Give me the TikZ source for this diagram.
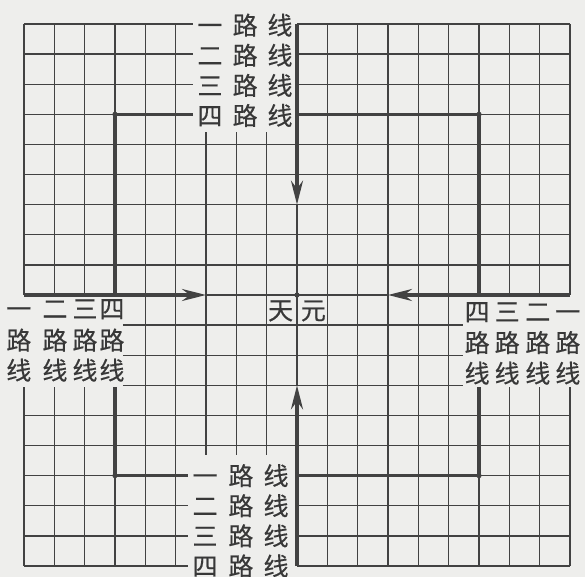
\documentclass[tikz,border=0pt]{standalone}
\usepackage{fontspec}
\newfontfamily\cjk[FakeBold=0.4]{Noto Sans CJK SC}
\usetikzlibrary{arrows.meta}
\definecolor{paper}{RGB}{238,238,236}
\definecolor{ink}{RGB}{66,66,66}
\definecolor{txt}{RGB}{56,56,56}
\tikzset{
  thinline/.style={draw=ink, line width=1.4pt},
  borderline/.style={draw=ink, line width=2.1pt},
  thickline/.style={draw=ink, line width=3.4pt, line join=miter},
  arrowline/.style={draw=ink, line width=3.4pt, -{Stealth[length=24pt,width=12pt,inset=8pt]}},
  lbl/.style={font=\cjk\fontsize{25}{25}\selectfont, text=txt, inner sep=0pt,
              text height=22pt, text depth=3pt},
  dotmark/.style={fill=ink}
}
\begin{document}
\begin{tikzpicture}[x=30.333pt, y=-30.111pt]
\fill[paper] (-0.7912,-0.7971) rectangle (18.495,18.365);
\useasboundingbox (-0.7912,-0.7971) rectangle (18.495,18.365);

% key points
\coordinate (C) at (9,9);
\coordinate (TL) at (3,3);
\coordinate (TR) at (15,3);
\coordinate (BL) at (3,15);
\coordinate (BR) at (15,15);
\coordinate (topEnd) at (5.57,3);
\coordinate (botEnd) at (5.41,15);
\coordinate (leftStart) at (3,12.07);
\coordinate (rightStart) at (15,12.07);

% thin horizontal lines
\foreach \j in {1,2} {
  \draw[thinline] (0,\j) -- (5.57,\j);
  \draw[thinline] (9,\j) -- (18,\j);
}
\draw[thinline] (0,3) -- (3,3);
\draw[thinline] (15,3) -- (18,3);
\foreach \j in {4,5,6,7,8,13,14} {
  \draw[thinline] (0,\j) -- (18,\j);
}
\draw[thinline] (6,9) -- (12,9);
\foreach \j in {10,11,12} {
  \draw[thinline] (3.26,\j) -- (14.47,\j);
}
\draw[thinline] (0,15) -- (3,15);
\draw[thinline] (15,15) -- (18,15);
\foreach \j in {16,17} {
  \draw[thinline] (0,\j) -- (5.41,\j);
  \draw[thinline] (9,\j) -- (18,\j);
}

% thin vertical lines
\foreach \i in {1,2,16,17} {
  \draw[thinline] (\i,0) -- (\i,9);
  \draw[thinline] (\i,12.07) -- (\i,18);
}
\foreach \i in {3,15} {
  \draw[thinline] (\i,0) -- (\i,3);
  \draw[thinline] (\i,15) -- (\i,18);
}
\foreach \i in {4,5,10,11,12,13,14} {
  \draw[thinline] (\i,0) -- (\i,18);
}
\foreach \i in {6,7,8} {
  \draw[thinline] (\i,3.59) -- (\i,14.31);
}
\draw[thinline] (9,6) -- (9,12);

% border
\draw[borderline] (0,0) -- (5.57,0);
\draw[borderline] (9,0) -- (18,0);
\draw[borderline] (0,18) -- (5.41,18);
\draw[borderline] (9,18) -- (18,18);
\foreach \i in {0,18} {
  \draw[borderline] (\i,0) -- (\i,9);
  \draw[borderline] (\i,12.07) -- (\i,18);
}

% thick fourth lines
\draw[thickline] (topEnd) -- (TL) -- (3,9);
\draw[thickline] (9,3) -- (TR) -- (15,9);
\draw[thickline] (leftStart) -- (BL) -- (botEnd);
\draw[thickline] (9,15) -- (BR) -- (rightStart);

% arrows toward tengen
\draw[arrowline] (0,9) -- (6,9);
\draw[arrowline] (18,9) -- (12,9);
\draw[arrowline] (9,0) -- (9,6);
\draw[arrowline] (9,18) -- (9,12);

% dots
\foreach \p in {C,TL,TR,BL,BR} {
  \fill[dotmark] (\p) circle (2.6pt);
}

% top labels
\foreach \n [count=\k from 0] in {一,二,三,四} {
  \node[lbl] (top-\k-a) at (6.13,\k+0.04) {\n};
  \node[lbl] (top-\k-b) at (7.29,\k+0.04) {路};
  \node[lbl] (top-\k-c) at (8.44,\k+0.04) {线};
}
% bottom labels
\foreach \n [count=\k from 15] in {一,二,三,四} {
  \node[lbl] (bot-\k-a) at (5.97,\k) {\n};
  \node[lbl] (bot-\k-b) at (7.15,\k) {路};
  \node[lbl] (bot-\k-c) at (8.31,\k) {线};
}
% left labels
\foreach \n/\x [count=\k] in {一/-0.17,二/1.02,三/2.01,四/2.9} {
  \node[lbl] (left-\k-a) at (\x,9.45) {\n};
  \node[lbl] (left-\k-b) at (\x,10.5) {路};
  \node[lbl] (left-\k-c) at (\x,11.5) {线};
}
% right labels
\foreach \n/\x [count=\k] in {四/14.94,三/15.93,二/16.94,一/17.93} {
  \node[lbl] (right-\k-a) at (\x,9.55) {\n};
  \node[lbl] (right-\k-b) at (\x,10.58) {路};
  \node[lbl] (right-\k-c) at (\x,11.6) {线};
}
% tengen
\node[lbl] (tian) at (8.46,9.5) {天};
\node[lbl] (yuan) at (9.54,9.5) {元};
\end{tikzpicture}
\end{document}
